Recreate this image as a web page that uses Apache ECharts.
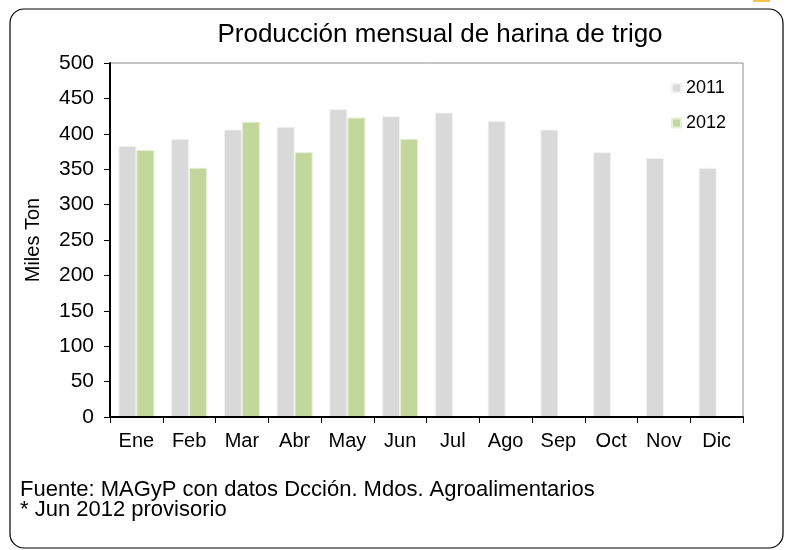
<!DOCTYPE html>
<html>
<head>
<meta charset="utf-8">
<script src="https://cdn.jsdelivr.net/npm/echarts@6/dist/echarts.min.js"></script>
<style>
  html, body { margin: 0; padding: 0; background: #fff; }
  #chart { width: 786px; height: 550px; }
</style>
</head>
<body>
<div id="chart"></div>
<script>
// datos
var meses = ['Ene', 'Feb', 'Mar', 'Abr', 'May', 'Jun', 'Jul', 'Ago', 'Sep', 'Oct', 'Nov', 'Dic'];
var prod2011 = [383, 393, 406, 410, 435, 425, 430, 418, 406, 374, 366, 352];
var prod2012 = [377, 352, 417, 374, 423, 393, null, null, null, null, null, null];

var chart = echarts.init(document.getElementById('chart'));

var fuente = 'Liberation Sans, Arial, sans-serif';

var option = {
  backgroundColor: '#fff',
  textStyle: { fontFamily: fuente },
  title: {
    text: 'Producción mensual de harina de trigo',
    left: 435,
    top: 17,
    textAlign: 'center',
    textStyle: { fontSize: 26, fontWeight: 'normal', color: '#000', fontFamily: fuente }
  },
  legend: {
    orient: 'vertical',
    left: 666,
    top: 74,
    itemWidth: 9,
    itemHeight: 9,
    itemGap: 17,
    icon: 'rect',
    textStyle: { fontSize: 18, color: '#000', fontFamily: fuente },
    data: ['2011', '2012']
  },
  grid: {
    left: 110,
    right: 43,
    top: 63,
    bottom: 133,
    show: true,
    borderColor: '#8c8c8c',
    borderWidth: 1
  },
  xAxis: {
    type: 'category',
    data: meses,
    z: 5,
    axisLine: { lineStyle: { color: '#000', width: 2 } },
    axisTick: { show: true, alignWithLabel: false, length: 6, lineStyle: { color: '#000' } },
    axisLabel: { fontSize: 20, color: '#000', margin: 14, fontFamily: fuente }
  },
  yAxis: {
    type: 'value',
    min: 0,
    max: 500,
    interval: 50,
    z: 5,
    name: 'Miles Ton',
    nameLocation: 'middle',
    nameGap: 67,
    nameRotate: 90,
    nameTextStyle: { fontSize: 20, color: '#000', fontFamily: fuente },
    axisLine: { show: true, lineStyle: { color: '#000', width: 2 } },
    axisTick: { show: true, length: 6, lineStyle: { color: '#000' } },
    axisLabel: { fontSize: 21, color: '#000', margin: 16, fontFamily: fuente },
    splitLine: { show: false }
  },
  series: [
    {
      name: '2011',
      type: 'bar',
      data: prod2011,
      barWidth: 18,
      barGap: '0%',
      itemStyle: { color: '#d9d9d9', borderColor: '#f2f2f2', borderWidth: 1 }
    },
    {
      name: '2012',
      type: 'bar',
      data: prod2012,
      barWidth: 18,
      barGap: '0%',
      itemStyle: { color: '#c3d69b', borderColor: '#e6efd4', borderWidth: 1 }
    }
  ],
  graphic: [
    {
      type: 'rect',
      shape: { x: 10, y: 9, width: 773, height: 539, r: 14 },
      style: { fill: 'none', stroke: '#000', lineWidth: 1.2 },
      silent: true
    },
    {
      type: 'rect',
      shape: { x: 753, y: 0, width: 17, height: 2 },
      style: { fill: '#f5c04a' },
      silent: true
    },
    {
      type: 'text',
      left: 20,
      top: 479,
      style: { text: 'Fuente: MAGyP con datos Dcción. Mdos. Agroalimentarios', fontSize: 22, fill: '#000', fontFamily: fuente }
    },
    {
      type: 'text',
      left: 20,
      top: 499,
      style: { text: '* Jun 2012 provisorio', fontSize: 22, fill: '#000', fontFamily: fuente }
    }
  ]
};

chart.setOption(option);
</script>
</body>
</html>
